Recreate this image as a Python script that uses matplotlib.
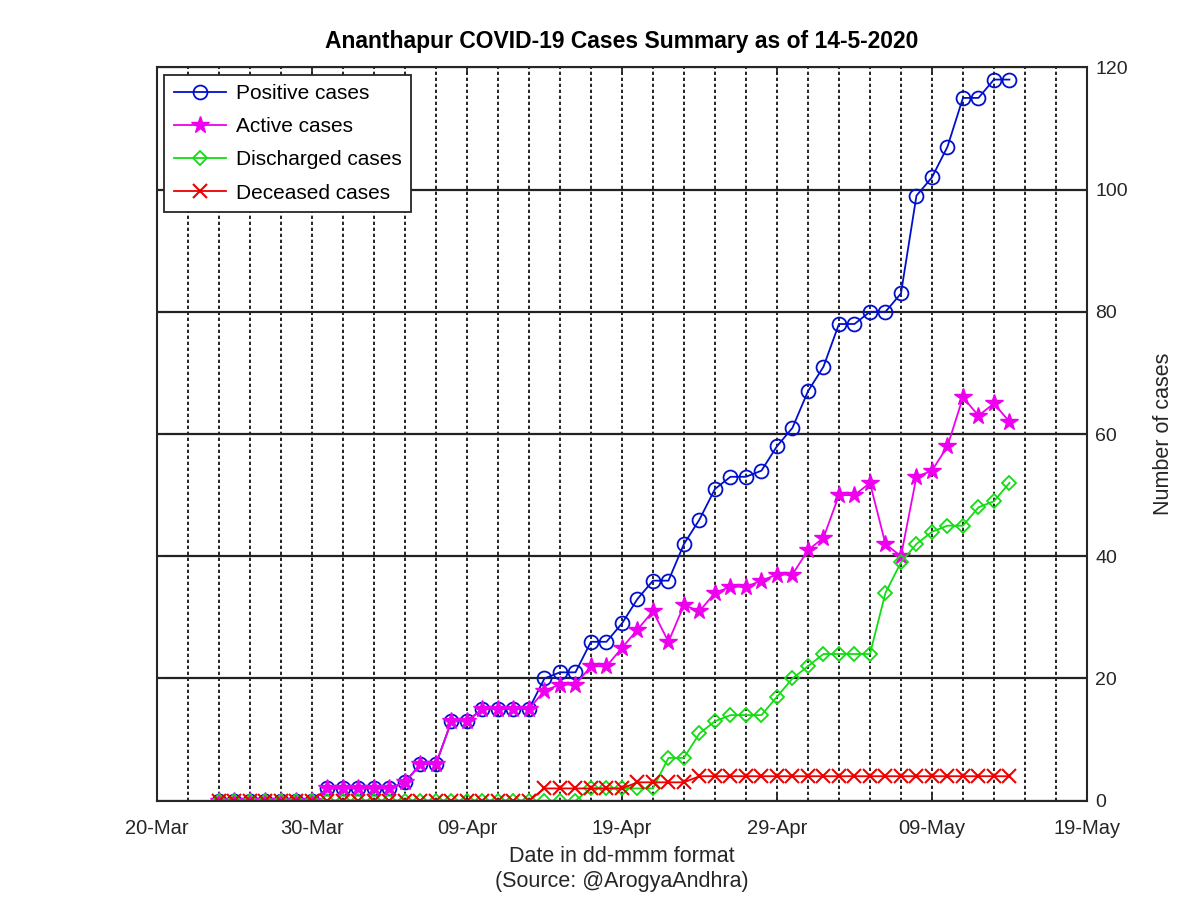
import numpy as np
import matplotlib
matplotlib.use("Agg")
import matplotlib.pyplot as plt
import matplotlib.dates as mdates
import datetime as dt

# daily values 24-Mar-2020 .. 14-May-2020
start = dt.date(2020, 3, 24)
positive = [0, 0, 0, 0, 0, 0, 0, 2, 2, 2, 2, 2, 3, 6, 6, 13, 13, 15, 15, 15, 15,
            20, 21, 21, 26, 26, 29, 33, 36, 36, 42, 46, 51, 53, 53, 54, 58, 61,
            67, 71, 78, 78, 80, 80, 83, 99, 102, 107, 115, 115, 118, 118]
active = [0, 0, 0, 0, 0, 0, 0, 2, 2, 2, 2, 2, 3, 6, 6, 13, 13, 15, 15, 15, 15,
          18, 19, 19, 22, 22, 25, 28, 31, 26, 32, 31, 34, 35, 35, 36, 37, 37,
          41, 43, 50, 50, 52, 42, 40, 53, 54, 58, 66, 63, 65, 62]
discharged = [0, 0, 0, 0, 0, 0, 0, 0, 0, 0, 0, 0, 0, 0, 0, 0, 0, 0, 0, 0, 0,
              0, 0, 0, 2, 2, 2, 2, 2, 7, 7, 11, 13, 14, 14, 14, 17, 20,
              22, 24, 24, 24, 24, 34, 39, 42, 44, 45, 45, 48, 49, 52]
deceased = [0, 0, 0, 0, 0, 0, 0, 0, 0, 0, 0, 0, 0, 0, 0, 0, 0, 0, 0, 0, 0,
            2, 2, 2, 2, 2, 2, 3, 3, 3, 3, 4, 4, 4, 4, 4, 4, 4,
            4, 4, 4, 4, 4, 4, 4, 4, 4, 4, 4, 4, 4, 4]

dates = [start + dt.timedelta(days=i) for i in range(len(positive))]
x = mdates.date2num(dates)

plt.rcParams['font.family'] = ['Liberation Sans', 'DejaVu Sans']

fig = plt.figure(figsize=(12, 8.98), dpi=100)
ax = fig.add_axes([0.1308, 0.1084, 0.775, 0.8166])

ax.plot(x, positive, '-o', color='#0010cc', lw=1.3, ms=10, mfc='none', mew=1.3, label='Positive cases')
ax.plot(x, active, '-*', color='#ee00ee', lw=1.3, ms=13, mew=1.0, label='Active cases')
ax.plot(x, discharged, '-D', color='#11dd11', lw=1.3, ms=7, mfc='none', mew=1.3, label='Discharged cases')
ax.plot(x, deceased, '-x', color='#ee0000', lw=1.3, ms=10, mew=1.5, label='Deceased cases')

x0 = mdates.date2num(dt.date(2020, 3, 20))
x1 = mdates.date2num(dt.date(2020, 5, 19))
ax.set_xlim(x0, x1)
ax.set_ylim(0, 120)
ax.set_xticks(np.arange(x0, x1 + 1, 10))
ax.set_xticks(np.arange(x0 + 2, x1, 2), minor=True)
ax.xaxis.set_major_formatter(mdates.DateFormatter('%d-%b'))
ax.set_yticks(np.arange(0, 121, 20))

ax.grid(which='minor', axis='x', color='black', linestyle=(0, (2, 1.6)), lw=1.2)
ax.grid(which='major', axis='x', color='black', linestyle=(0, (2, 1.6)), lw=1.2)
ax.grid(which='major', axis='y', color='#222222', linestyle='-', lw=1.6)
ax.set_axisbelow(True)

ax.yaxis.tick_right()
ax.yaxis.set_label_position('right')
ax.tick_params(which='major', direction='in', length=6, width=1.3, top=True, bottom=True, left=True, right=True,
               labelsize=14, pad=6, colors='#262626')
ax.tick_params(axis='x', which='major', labelsize=14.5, pad=13)
ax.tick_params(which='minor', length=0)
for s in ax.spines.values():
    s.set_linewidth(1.5)
    s.set_color('#262626')

ax.set_title('Ananthapur COVID-19 Cases Summary as of 14-5-2020', fontsize=16.5, fontweight='bold', pad=14)
ax.set_xlabel('Date in dd-mmm format\n(Source: @ArogyaAndhra)', fontsize=15.5, color='#262626', labelpad=6,
              linespacing=1.25)
ax.set_ylabel('Number of cases', fontsize=15.5, color='#262626', labelpad=18)

leg = ax.legend(loc='upper left', fontsize=15, handlelength=2.5, handletextpad=0.5, framealpha=1, fancybox=False,
                edgecolor='#262626', borderaxespad=0.35, labelspacing=0.68, borderpad=0.45)
leg.get_frame().set_linewidth(1.3)

fig.savefig('out.png', dpi=100)
